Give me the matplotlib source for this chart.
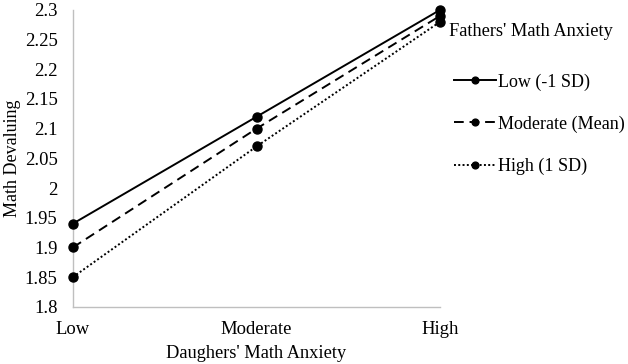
import matplotlib

matplotlib.use("Agg")
import matplotlib.pyplot as plt

# data
categories = ["Low", "Moderate", "High"]
series_names = ["Low (-1 SD)", "Moderate (Mean)", "High (1 SD)"]
low_sd = [1.94, 2.12, 2.30]
mean_sd = [1.90, 2.10, 2.29]
high_sd = [1.85, 2.07, 2.28]
y_ticks = [1.8, 1.85, 1.9, 1.95, 2.0, 2.05, 2.1, 2.15, 2.2, 2.25, 2.3]
y_tick_labels = ["1.8", "1.85", "1.9", "1.95", "2", "2.05", "2.1", "2.15", "2.2", "2.25", "2.3"]

plt.rcParams["font.family"] = ["Liberation Serif", "DejaVu Serif"]

fig = plt.figure(figsize=(6.28, 3.64), dpi=100)
ax = fig.add_axes([0.116, 0.157, 0.585, 0.816])

x = list(range(len(categories)))
styles = ["-", (0, (5, 3)), (0, (1, 1.2))]
for vals, name, ls in zip([low_sd, mean_sd, high_sd], series_names, styles):
    ax.plot(x, vals, color="black", linestyle=ls, linewidth=1.4,
            marker="o", markersize=6.5, label=name, clip_on=False, zorder=3)

ax.set_xlim(0, 2)
ax.set_ylim(1.8, 2.3)
ax.set_xticks(x)
ax.set_xticklabels(categories)
ax.set_yticks(y_ticks)
ax.set_yticklabels(y_tick_labels)
ax.tick_params(length=0, labelsize=13.4)
ax.tick_params(axis="x", pad=10)
ax.tick_params(axis="y", pad=11)

for side in ("top", "right"):
    ax.spines[side].set_visible(False)
for side in ("left", "bottom"):
    ax.spines[side].set_color("#bfbfbf")
    ax.spines[side].set_linewidth(1.0)

ax.set_xlabel("Daughers' Math Anxiety", fontsize=13.2, labelpad=5)
ax.set_ylabel("Math Devaluing", fontsize=13, labelpad=3)

# legend title drawn separately so it can sit where the original puts it
fig.text(449 / 628, 1 - 31 / 364, "Fathers' Math Anxiety", fontsize=13.2,
         ha="left", va="center")
fig.legend(loc="upper left", bbox_to_anchor=(447 / 628, 1 - 66 / 364),
           frameon=False, fontsize=13, handlelength=2.3, markerscale=0.75,
           handletextpad=0.1, labelspacing=1.38, borderaxespad=0.0)

fig.savefig("out.png", dpi=100)
